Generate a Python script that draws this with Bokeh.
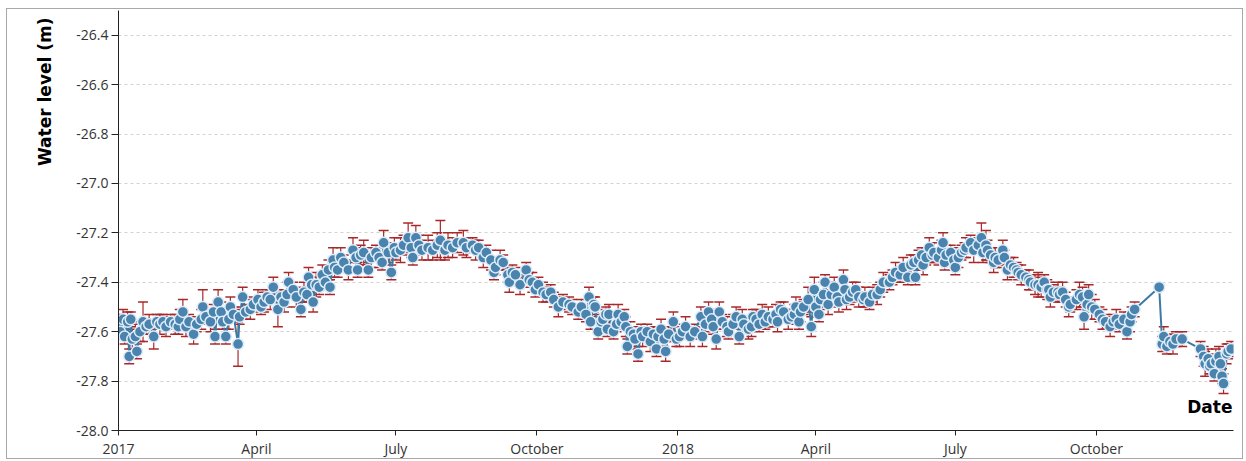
import pandas as pd
from bokeh.plotting import figure
from bokeh.models import (ColumnDataSource, Whisker, TeeHead, FixedTicker, Label,
                          Range1d, PrintfTickFormatter, Title)
from bokeh.embed import file_html
from bokeh.resources import INLINE

# ---------------- data ----------------
start_date = "2017-01-01"
end_date = "2018-12-29 12:00"

# day offset from start_date for each measurement
days = [
    0, 1, 3, 4, 6, 7, 8, 9, 11, 12,
    14, 16, 18, 20, 23, 25, 27, 29, 31, 34,
    37, 39, 40, 42, 44, 46, 49, 51, 54, 55,
    57, 60, 62, 63, 65, 67, 68, 70, 72, 73,
    75, 78, 79, 81, 83, 86, 88, 91, 93, 95,
    97, 99, 101, 104, 106, 108, 110, 111, 114, 116,
    119, 121, 123, 124, 126, 127, 129, 131, 133, 135,
    137, 138, 140, 141, 143, 145, 147, 150, 153, 155,
    156, 158, 160, 163, 165, 168, 170, 172, 173, 176,
    178, 180, 181, 184, 186, 189, 191, 192, 194, 196,
    198, 202, 205, 208, 210, 213, 215, 218, 221, 225,
    227, 231, 233, 235, 238, 240, 243, 245, 246, 249,
    251, 254, 255, 257, 259, 262, 266, 268, 270, 272,
    274, 277, 279, 282, 284, 287, 290, 294, 296, 300,
    302, 305, 307, 308, 310, 311, 313, 315, 316, 318,
    319, 320, 323, 325, 326, 328, 330, 331, 332, 334,
    336, 337, 339, 341, 342, 345, 347, 349, 351, 352,
    354, 356, 357, 359, 362, 364, 366, 368, 370, 373,
    376, 380, 381, 383, 385, 387, 388, 390, 392, 394,
    397, 398, 401, 403, 405, 407, 408, 411, 413, 414,
    416, 418, 420, 422, 424, 427, 429, 430, 432, 434,
    437, 439, 441, 442, 444, 445, 447, 450, 452, 454,
    455, 457, 458, 460, 461, 463, 465, 467, 469, 470,
    473, 474, 475, 477, 479, 481, 483, 486, 487, 490,
    492, 495, 497, 499, 503, 505, 507, 510, 512, 515,
    517, 519, 520, 522, 524, 525, 527, 529, 531, 532,
    535, 537, 538, 539, 540, 543, 545, 546, 548, 550,
    552, 553, 556, 558, 561, 563, 564, 566, 567, 569,
    571, 572, 574, 577, 578, 580, 582, 584, 586, 587,
    589, 592, 594, 595, 598, 600, 602, 604, 606, 607,
    608, 610, 613, 614, 616, 618, 620, 621, 625, 627,
    629, 630, 632, 633, 635, 637, 640, 642, 644, 647,
    649, 651, 653, 656, 658, 660, 661, 663, 679, 681,
    682, 684, 686, 688, 690, 694, 706, 708, 709, 711,
    712, 713, 715, 716, 718, 719, 720, 721, 723, 724,
    726,
]

# water level (m)
level = [
    -27.57, -27.60, -27.55, -27.62, -27.56, -27.70, -27.55, -27.63, -27.62, -27.68,
    -27.60, -27.56, -27.58, -27.57, -27.62, -27.56, -27.57, -27.56, -27.58, -27.56,
    -27.57, -27.58, -27.55, -27.52, -27.58, -27.56, -27.61, -27.57, -27.55, -27.50,
    -27.54, -27.56, -27.52, -27.62, -27.48, -27.52, -27.56, -27.62, -27.55, -27.50,
    -27.53, -27.65, -27.54, -27.46, -27.52, -27.51, -27.49, -27.47, -27.50, -27.48,
    -27.46, -27.47, -27.42, -27.51, -27.46, -27.48, -27.45, -27.40, -27.43, -27.46,
    -27.51, -27.44, -27.45, -27.38, -27.41, -27.48, -27.41, -27.42, -27.37, -27.40,
    -27.35, -27.42, -27.31, -27.34, -27.35, -27.30, -27.32, -27.35, -27.27, -27.30,
    -27.35, -27.29, -27.28, -27.35, -27.30, -27.28, -27.30, -27.32, -27.24, -27.28,
    -27.36, -27.26, -27.28, -27.27, -27.25, -27.22, -27.26, -27.30, -27.22, -27.25,
    -27.27, -27.26, -27.27, -27.25, -27.23, -27.27, -27.25, -27.26, -27.24, -27.24,
    -27.26, -27.25, -27.27, -27.26, -27.30, -27.28, -27.31, -27.36, -27.34, -27.31,
    -27.32, -27.37, -27.40, -27.36, -27.37, -27.41, -27.35, -27.39, -27.40, -27.43,
    -27.41, -27.44, -27.45, -27.44, -27.47, -27.50, -27.48, -27.49, -27.50, -27.52,
    -27.50, -27.53, -27.46, -27.56, -27.49, -27.50, -27.60, -27.56, -27.55, -27.53,
    -27.59, -27.53, -27.60, -27.57, -27.53, -27.56, -27.54, -27.58, -27.66, -27.60,
    -27.61, -27.63, -27.69, -27.60, -27.62, -27.60, -27.64, -27.61, -27.67, -27.62,
    -27.59, -27.63, -27.68, -27.61, -27.56, -27.63, -27.62, -27.60, -27.58, -27.62,
    -27.60, -27.54, -27.62, -27.57, -27.52, -27.55, -27.58, -27.63, -27.52, -27.56,
    -27.58, -27.60, -27.57, -27.54, -27.62, -27.55, -27.57, -27.59, -27.58, -27.54,
    -27.55, -27.57, -27.53, -27.56, -27.54, -27.55, -27.53, -27.56, -27.51, -27.52,
    -27.55, -27.54, -27.53, -27.50, -27.56, -27.52, -27.50, -27.47, -27.58, -27.43,
    -27.50, -27.53, -27.47, -27.45, -27.40, -27.49, -27.45, -27.42, -27.46, -27.48,
    -27.39, -27.43, -27.47, -27.46, -27.44, -27.43, -27.46, -27.47, -27.46, -27.48,
    -27.45, -27.45, -27.43, -27.40, -27.40, -27.38, -27.36, -27.37, -27.34, -27.38,
    -27.33, -27.32, -27.38, -27.31, -27.29, -27.33, -27.30, -27.26, -27.29, -27.28,
    -27.30, -27.27, -27.24, -27.32, -27.29, -27.28, -27.31, -27.34, -27.30, -27.28,
    -27.27, -27.26, -27.24, -27.27, -27.25, -27.22, -27.28, -27.25, -27.27, -27.29,
    -27.32, -27.30, -27.31, -27.27, -27.30, -27.35, -27.33, -27.34, -27.35, -27.36,
    -27.37, -27.38, -27.39, -27.40, -27.41, -27.41, -27.42, -27.40, -27.43, -27.43,
    -27.46, -27.44, -27.44, -27.45, -27.44, -27.47, -27.50, -27.49, -27.47, -27.45,
    -27.46, -27.54, -27.49, -27.45, -27.50, -27.51, -27.53, -27.55, -27.56, -27.58,
    -27.56, -27.55, -27.57, -27.55, -27.60, -27.56, -27.53, -27.51, -27.42, -27.65,
    -27.62, -27.66, -27.64, -27.65, -27.63, -27.63, -27.67, -27.70, -27.73, -27.71,
    -27.74, -27.73, -27.77, -27.72, -27.70, -27.73, -27.78, -27.81, -27.69, -27.68,
    -27.67,
]

# measurement uncertainty (+/- m)
err = [
    0.04, 0.03, 0.04, 0.03, 0.04, 0.03, 0.03, 0.04, 0.05, 0.03,
    0.04, 0.08, 0.03, 0.04, 0.05, 0.03, 0.04, 0.03, 0.04, 0.03,
    0.04, 0.03, 0.04, 0.05, 0.04, 0.03, 0.04, 0.03, 0.04, 0.07,
    0.03, 0.04, 0.03, 0.03, 0.05, 0.04, 0.03, 0.03, 0.04, 0.04,
    0.03, 0.09, 0.03, 0.04, 0.03, 0.04, 0.03, 0.04, 0.03, 0.04,
    0.03, 0.04, 0.04, 0.07, 0.03, 0.04, 0.05, 0.04, 0.03, 0.04,
    0.03, 0.04, 0.03, 0.04, 0.03, 0.04, 0.05, 0.03, 0.04, 0.03,
    0.04, 0.03, 0.05, 0.04, 0.03, 0.04, 0.03, 0.04, 0.05, 0.04,
    0.03, 0.04, 0.05, 0.03, 0.04, 0.03, 0.04, 0.03, 0.05, 0.04,
    0.03, 0.04, 0.03, 0.05, 0.04, 0.06, 0.04, 0.03, 0.05, 0.04,
    0.04, 0.05, 0.04, 0.05, 0.08, 0.04, 0.05, 0.04, 0.04, 0.05,
    0.04, 0.03, 0.04, 0.03, 0.04, 0.03, 0.04, 0.03, 0.03, 0.04,
    0.03, 0.03, 0.04, 0.03, 0.03, 0.04, 0.03, 0.03, 0.04, 0.03,
    0.03, 0.04, 0.03, 0.03, 0.03, 0.04, 0.03, 0.03, 0.03, 0.03,
    0.03, 0.03, 0.04, 0.03, 0.03, 0.04, 0.03, 0.03, 0.04, 0.03,
    0.03, 0.04, 0.03, 0.03, 0.04, 0.03, 0.03, 0.04, 0.03, 0.04,
    0.03, 0.04, 0.03, 0.03, 0.04, 0.03, 0.04, 0.03, 0.03, 0.04,
    0.04, 0.03, 0.04, 0.03, 0.04, 0.03, 0.04, 0.03, 0.04, 0.04,
    0.03, 0.04, 0.04, 0.03, 0.04, 0.04, 0.03, 0.04, 0.04, 0.03,
    0.04, 0.03, 0.04, 0.04, 0.03, 0.04, 0.03, 0.04, 0.04, 0.03,
    0.04, 0.03, 0.04, 0.03, 0.04, 0.03, 0.04, 0.04, 0.03, 0.04,
    0.04, 0.03, 0.04, 0.04, 0.03, 0.04, 0.03, 0.05, 0.04, 0.05,
    0.04, 0.03, 0.04, 0.05, 0.03, 0.04, 0.05, 0.04, 0.03, 0.04,
    0.04, 0.03, 0.04, 0.03, 0.04, 0.03, 0.04, 0.03, 0.04, 0.03,
    0.03, 0.04, 0.03, 0.04, 0.03, 0.03, 0.04, 0.03, 0.04, 0.03,
    0.04, 0.03, 0.03, 0.04, 0.03, 0.04, 0.03, 0.04, 0.03, 0.04,
    0.03, 0.04, 0.04, 0.03, 0.04, 0.03, 0.04, 0.03, 0.04, 0.03,
    0.03, 0.04, 0.03, 0.05, 0.03, 0.06, 0.04, 0.06, 0.04, 0.03,
    0.04, 0.04, 0.03, 0.04, 0.03, 0.04, 0.03, 0.04, 0.03, 0.03,
    0.04, 0.03, 0.04, 0.03, 0.04, 0.05, 0.04, 0.03, 0.04, 0.03,
    0.04, 0.03, 0.04, 0.03, 0.04, 0.03, 0.04, 0.03, 0.04, 0.05,
    0.04, 0.05, 0.03, 0.04, 0.05, 0.04, 0.03, 0.04, 0.03, 0.04,
    0.03, 0.04, 0.03, 0.03, 0.03, 0.04, 0.03, 0.03, 0.01, 0.03,
    0.04, 0.03, 0.03, 0.04, 0.03, 0.03, 0.03, 0.04, 0.05, 0.04,
    0.03, 0.04, 0.03, 0.05, 0.04, 0.04, 0.03, 0.04, 0.04, 0.03,
    0.03,
]

x_tick_dates = ["2017-01-01", "2017-04-01", "2017-07-01", "2017-10-01",
                "2018-01-01", "2018-04-01", "2018-07-01", "2018-10-01"]
x_tick_labels = ["2017", "April", "July", "October",
                 "2018", "April", "July", "October"]
y_ticks = [-28.0, -27.8, -27.6, -27.4, -27.2, -27.0, -26.8, -26.6, -26.4]

# ---------------- build ----------------
n = min(len(days), len(level), len(err))
dates = pd.Timestamp(start_date) + pd.to_timedelta(days[:n], unit="D")
src = ColumnDataSource(dict(
    date=dates,
    level=level[:n],
    upper=[l + e for l, e in zip(level[:n], err[:n])],
    lower=[l - e for l, e in zip(level[:n], err[:n])],
))

p = figure(
    width=1237, height=451,
    x_axis_type="datetime",
    x_range=Range1d(pd.Timestamp(start_date), pd.Timestamp(end_date)),
    y_range=Range1d(-28.0, -26.3),
    output_backend="svg", toolbar_location=None,
    min_border_left=111, min_border_right=11, min_border_top=1, min_border_bottom=28,
)
p.styles = {"border": "1px solid #a8a8a8", "margin-left": "6px", "margin-top": "8px"}
p.outline_line_color = None
p.background_fill_color = "white"
p.border_fill_color = "white"

BLUE = "#4a83ad"
RED = "#a8282a"

p.line("date", "level", source=src, line_color="#3c7aa4", line_width=2)

whisk = Whisker(
    base="date", upper="upper", lower="lower", source=src,
    line_color=RED, line_width=1.2,
    upper_head=TeeHead(size=10, line_color=RED, line_width=1.5),
    lower_head=TeeHead(size=10, line_color=RED, line_width=1.5),
)
p.add_layout(whisk)

p.scatter("date", "level", source=src, size=11, fill_color=BLUE,
          line_color="#dcecf8", line_width=1.5)

# grid
p.xgrid.visible = False
p.ygrid.grid_line_color = "#d2d2d2"
p.ygrid.grid_line_dash = "3 3"
p.ygrid.grid_line_width = 1

# y axis
yax = p.yaxis[0]
yax.ticker = FixedTicker(ticks=y_ticks)
yax.formatter = PrintfTickFormatter(format="%.1f")
yax.minor_tick_line_color = None
yax.major_tick_in = 0
yax.major_tick_out = 7
yax.major_label_standoff = 3
yax.major_label_text_font = "Open Sans"
yax.major_label_text_font_size = "14px"
yax.major_label_text_color = "#333333"
yax.axis_line_color = "#222222"
yax.major_tick_line_color = "#222222"

# y axis title, hanging down from the top of the plot area
p.add_layout(Title(text="Water level (m)", align="right", offset=7, standoff=38,
                   text_font="DejaVu Sans", text_font_style="bold",
                   text_font_size="17px", text_color="black"), "left")

# x axis
xax = p.xaxis[0]
tick_ms = [int(pd.Timestamp(d).value // 10**6) for d in x_tick_dates]
xax.ticker = FixedTicker(ticks=tick_ms)
xax.major_label_overrides = dict(zip(tick_ms, x_tick_labels))
xax.minor_tick_line_color = None
xax.major_tick_in = 0
xax.major_tick_out = 5
xax.major_label_standoff = 3
xax.major_label_text_font = "Open Sans"
xax.major_label_text_font_size = "14px"
xax.major_label_text_color = "#333333"
xax.axis_line_color = "#222222"
xax.major_tick_line_color = "#222222"

xlab = Label(x=pd.Timestamp(end_date), y=-27.905, x_units="data", y_units="data",
             x_offset=-1, text="Date", text_align="right", text_baseline="middle",
             text_font="DejaVu Sans", text_font_style="bold",
             text_font_size="17px", text_color="black")
p.add_layout(xlab)

open("out.html", "w").write(file_html(p, INLINE))
